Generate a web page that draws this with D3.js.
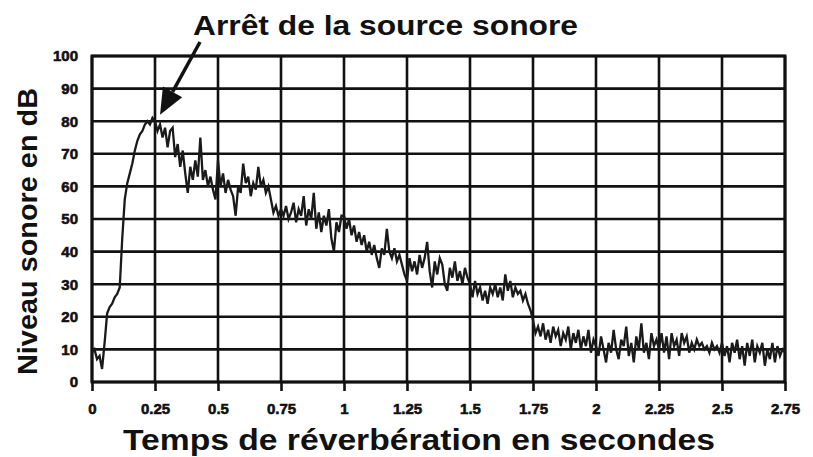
<!DOCTYPE html>
<html>
<head>
<meta charset="utf-8">
<script src="https://cdn.jsdelivr.net/npm/d3@7"></script>
<style>
  body { margin: 0; background: #fff; }
  svg { display: block; }
</style>
</head>
<body>
<svg id="plot" width="813" height="457"></svg>
<script>
// texts
let title = "Arrêt de la source sonore";
let x_title = "Temps de réverbération en secondes";
let y_title = "Niveau sonore en dB";

// ticks
let x_ticks = [0, 0.25, 0.5, 0.75, 1, 1.25, 1.5, 1.75, 2, 2.25, 2.5, 2.75];
let y_ticks = [0, 10, 20, 30, 40, 50, 60, 70, 80, 90, 100];

// sampling step of the trace (s)
let step = 0.01;

// sound level (dB), one value each 0.01 s
let level = [
  9, 10, 7, 8, 4, 12, 21, 23, 24, 26, 27, 29, 44, 56, 61, 64, 67, 71, 74, 76, 77, 79, 80, 79, 81,
  80, 77, 79, 75, 78, 72, 77, 78, 69, 73, 66, 71, 64, 58, 66, 62, 68, 63, 75, 62, 65, 60, 63, 59, 56,
  68, 60, 64, 58, 62, 59, 57, 51, 60, 58, 67, 61, 63, 57, 61, 59, 66, 60, 62, 58, 60, 56, 52, 54, 51,
  53, 51, 54, 50, 52, 55, 49, 53, 51, 57, 48, 53, 50, 58, 47, 52, 46, 51, 48, 53, 44, 40, 49, 46, 51,
  51, 47, 50, 45, 48, 43, 46, 42, 45, 40, 43, 39, 42, 38, 35, 41, 39, 47, 40, 38, 41, 37, 39, 36, 33,
  31, 38, 34, 37, 33, 39, 35, 38, 43, 34, 29, 37, 33, 38, 36, 30, 28, 35, 32, 37, 31, 34, 30, 35, 32,
  30, 26, 31, 27, 29, 25, 28, 24, 29, 27, 30, 26, 29, 25, 33, 28, 31, 26, 29, 27, 28, 25, 27, 24, 22,
  19, 15, 17, 14, 18, 13, 16, 12, 17, 14, 16, 11, 15, 13, 17, 10, 15, 12, 16, 10, 14, 11, 16, 9, 13,
  11, 8, 14, 10, 6, 12, 9, 16, 10, 7, 13, 11, 17, 8, 12, 6, 14, 10, 18, 9, 12, 7, 15, 11, 13,
  10, 15, 9, 14, 7, 15, 11, 13, 8, 15, 12, 14, 9, 12, 10, 13, 11, 12, 10, 11, 9, 12, 10, 11, 9,
  12, 8, 11, 6, 12, 9, 13, 7, 11, 5, 12, 8, 13, 6, 11, 9, 12, 5, 10, 7, 12, 6, 11, 8, 10, 9
];

let svg = d3.select("#plot");

let margin_left = 92, plot_right = 785, margin_top = 56, plot_bottom = 382;

let x_scale = d3.scaleLinear([0, 2.75], [margin_left, plot_right]);
let y_scale = d3.scaleLinear([0, 100], [plot_bottom, margin_top]);

let bold = "'Liberation Sans', Arial, Helvetica, sans-serif";
let narrow = "'Liberation Sans Narrow', 'Arial Narrow', 'Liberation Sans', sans-serif";

// grid
svg.append("g").selectAll("line")
  .data(y_ticks)
  .join("line")
  .attr("x1", margin_left).attr("x2", plot_right)
  .attr("y1", d => y_scale(d)).attr("y2", d => y_scale(d))
  .attr("stroke", "#111").attr("stroke-width", 2.6);

svg.append("g").selectAll("line")
  .data(x_ticks)
  .join("line")
  .attr("x1", d => x_scale(d)).attr("x2", d => x_scale(d))
  .attr("y1", margin_top).attr("y2", plot_bottom)
  .attr("stroke", "#111").attr("stroke-width", 2.6);

svg.append("rect")
  .attr("x", margin_left).attr("y", margin_top)
  .attr("width", plot_right - margin_left).attr("height", plot_bottom - margin_top)
  .attr("fill", "none").attr("stroke", "#111").attr("stroke-width", 3);

// axes
let gx = svg.append("g")
  .attr("transform", `translate(0,${plot_bottom})`)
  .call(d3.axisBottom(x_scale).tickValues(x_ticks).tickSize(9).tickPadding(12).tickFormat(d => d));
gx.select(".domain").remove();
gx.selectAll("line").attr("stroke", "#111").attr("stroke-width", 2.6);
gx.selectAll("text")
  .attr("font-family", narrow).attr("font-weight", "bold").attr("font-size", 15)
  .attr("fill", "#111").attr("stroke", "#111").attr("stroke-width", 0.6);

let gy = svg.append("g")
  .attr("transform", `translate(${margin_left},0)`)
  .call(d3.axisLeft(y_scale).tickValues(y_ticks).tickSize(0).tickPadding(14));
gy.select(".domain").remove();
gy.selectAll("text")
  .attr("font-family", narrow).attr("font-weight", "bold").attr("font-size", 15)
  .attr("fill", "#111").attr("stroke", "#111").attr("stroke-width", 0.6);

// trace
let line = d3.line()
  .x((d, i) => x_scale(i * step))
  .y(d => y_scale(d));

svg.append("path")
  .datum(level)
  .attr("d", line)
  .attr("fill", "none")
  .attr("stroke", "#1a1a1a")
  .attr("stroke-width", 2.3)
  .attr("stroke-linejoin", "miter");

// titles
svg.append("text")
  .attr("x", 193).attr("y", 35)
  .attr("font-family", bold).attr("font-weight", "bold").attr("font-size", 28)
  .attr("textLength", 385).attr("lengthAdjust", "spacingAndGlyphs")
  .attr("fill", "#111")
  .text(title);

svg.append("text")
  .attr("x", 123).attr("y", 450)
  .attr("font-family", bold).attr("font-weight", "bold").attr("font-size", 29)
  .attr("textLength", 592).attr("lengthAdjust", "spacingAndGlyphs")
  .attr("fill", "#111")
  .text(x_title);

svg.append("text")
  .attr("transform", `translate(37,${375}) rotate(-90)`)
  .attr("font-family", bold).attr("font-weight", "bold").attr("font-size", 28)
  .attr("textLength", 287).attr("lengthAdjust", "spacingAndGlyphs")
  .attr("fill", "#111")
  .text(y_title);

// arrow to the peak
let tip = [x_scale(0.27), y_scale(82)];
let tail = [200, 42];
let ang = Math.atan2(tip[1] - tail[1], tip[0] - tail[0]);
let head_len = 26, head_w = 11;
let base = [tip[0] - head_len * Math.cos(ang), tip[1] - head_len * Math.sin(ang)];

svg.append("line")
  .attr("x1", tail[0]).attr("y1", tail[1])
  .attr("x2", base[0]).attr("y2", base[1])
  .attr("stroke", "#111").attr("stroke-width", 3.5);

svg.append("path")
  .attr("d", `M${tip[0]},${tip[1]}
    L${base[0] + head_w * Math.sin(ang)},${base[1] - head_w * Math.cos(ang)}
    L${base[0] - head_w * Math.sin(ang)},${base[1] + head_w * Math.cos(ang)}Z`)
  .attr("fill", "#111");
</script>
</body>
</html>
